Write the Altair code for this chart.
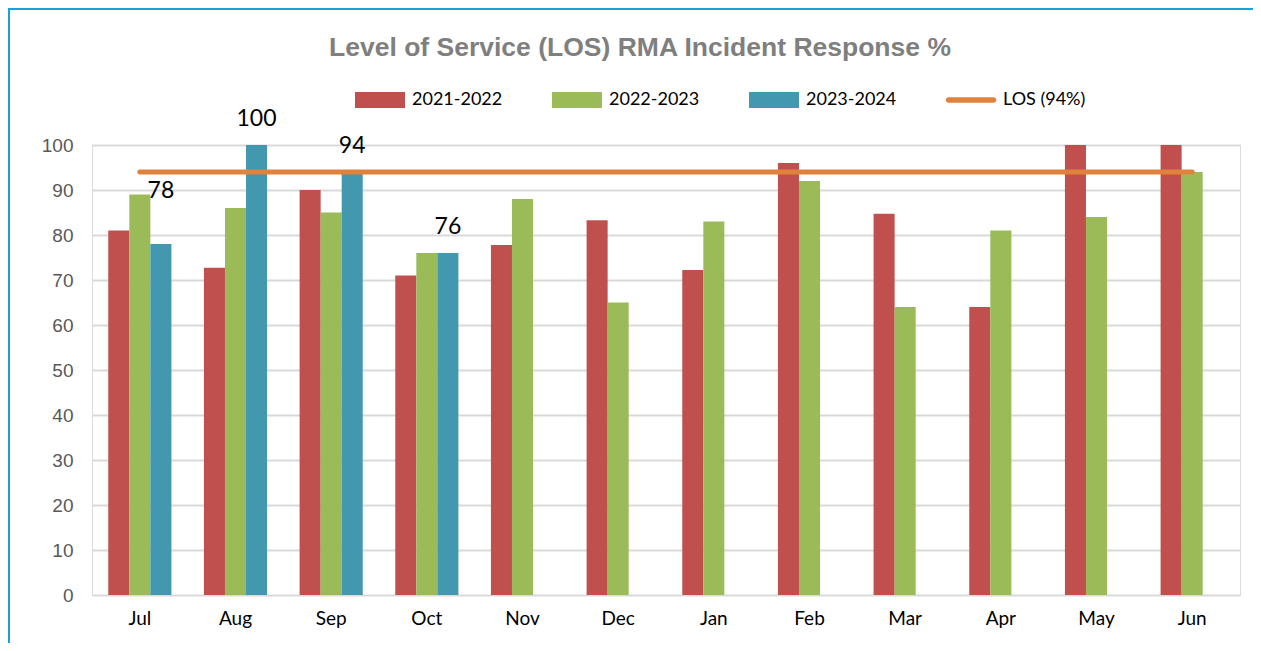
import altair as alt
import pandas as pd

months = ["Jul", "Aug", "Sep", "Oct", "Nov", "Dec", "Jan", "Feb", "Mar", "Apr", "May", "Jun"]
series_names = ["2021-2022", "2022-2023", "2023-2024"]
los_name = "LOS (94%)"
los_value = 94

s2122 = [81, 72.7, 90, 71, 77.8, 83.3, 72.2, 96, 84.7, 64, 100, 100]
s2223 = [89, 86, 85, 76, 88, 65, 83, 92, 64, 81, 84, 94]
s2324 = [78, 100, 94, 76]

colors = ["#C0504D", "#9BBB59", "#4198AF", "#E0823C"]

rows = []
for name, vals in zip(series_names, [s2122, s2223, s2324]):
    for m, v in zip(months, vals):
        rows.append({"month": m, "series": name, "value": v})
bars_df = pd.DataFrame(rows)
labels_df = bars_df[bars_df["series"] == "2023-2024"].copy()
los_df = pd.DataFrame({"month": months, "series": los_name, "value": los_value})
all_names = series_names + [los_name]
legend_df = pd.DataFrame({"series": all_names})

W, H = 1148, 450

x_scale = alt.Scale(domain=months, paddingInner=0.34, paddingOuter=0.17)
color_scale = alt.Scale(domain=all_names, range=colors)

rect_path = "M-1,-0.32H1V0.32H-1Z"
line_path = "M-0.9,-0.11L0.9,-0.11A0.11,0.11,0,0,1,0.9,0.11L-0.9,0.11A0.11,0.11,0,0,1,-0.9,-0.11Z"
shape_scale = alt.Scale(domain=all_names, range=[rect_path, rect_path, rect_path, line_path])
legend_x_scale = alt.Scale(domain=all_names, type="point", range=[288, 879], padding=0)

frame = alt.Chart(pd.DataFrame({"f": [0]})).mark_rect(
    filled=False, stroke="#1A9FDA", strokeWidth=2
).encode(
    x=alt.value(-83), x2=alt.value(W + 200), y=alt.value(-136), y2=alt.value(H + 200)
)

bars = alt.Chart(bars_df).mark_bar().encode(
    x=alt.X("month:N", scale=x_scale, sort=months,
            axis=alt.Axis(title=None, labelFont="Lato", labelFontSize=19, labelColor="#000000",
                          labelPadding=14, ticks=False, domain=False, grid=False, labelAngle=0)),
    xOffset=alt.XOffset("series:N", scale=alt.Scale(domain=series_names, paddingInner=0, paddingOuter=0)),
    y=alt.Y("value:Q", scale=alt.Scale(domain=[0, 100], nice=False),
            axis=alt.Axis(title=None, values=list(range(0, 101, 10)), labelFont="Liberation Sans",
                          labelFontSize=19, labelColor="#595959", labelPadding=19, ticks=False,
                          domain=False, grid=True, gridColor="#D9D9D9", gridWidth=1.8)),
    color=alt.Color("series:N", scale=color_scale, legend=None),
)

los_line = alt.Chart(los_df).mark_line(strokeWidth=5, strokeCap="round").encode(
    x=alt.X("month:N", scale=x_scale, sort=months, axis=None),
    y=alt.Y("value:Q"),
    color=alt.Color("series:N", scale=color_scale, legend=None),
)

label_base = alt.Chart(labels_df).encode(
    x=alt.X("month:N", scale=x_scale, sort=months, axis=None),
    xOffset=alt.XOffset("series:N", scale=alt.Scale(domain=series_names)),
    y=alt.Y("value:Q"),
    text=alt.Text("value:Q", format="d"),
)
labels_main = label_base.transform_filter(alt.datum.month != "Jul").mark_text(
    font="Lato", fontSize=23, color="#000000", dy=-19, baseline="alphabetic"
)
labels_jul = label_base.transform_filter(alt.datum.month == "Jul").mark_text(
    font="Lato", fontSize=23, color="#000000", dy=-46, baseline="alphabetic"
)

legend_symbols = alt.Chart(legend_df).mark_point(filled=True, size=2500, strokeWidth=0, opacity=1).encode(
    x=alt.X("series:N", scale=legend_x_scale, axis=None),
    y=alt.value(-45),
    color=alt.Color("series:N", scale=color_scale, legend=None),
    shape=alt.Shape("series:N", scale=shape_scale, legend=None),
)
legend_labels = alt.Chart(legend_df).mark_text(
    align="left", baseline="middle", dx=32, font="Lato", fontSize=18, color="#000000"
).encode(
    x=alt.X("series:N", scale=legend_x_scale, axis=None),
    y=alt.value(-45),
    text="series:N",
)

chart = alt.layer(frame, bars, los_line, labels_main, labels_jul, legend_symbols, legend_labels).resolve_scale(
    x="independent"
).properties(
    width=W, height=H,
    title=alt.TitleParams("Level of Service (LOS) RMA Incident Response %", font="Liberation Sans",
                          fontSize=26.5, fontWeight="bold", color="#7F7F7F", anchor="middle",
                          frame="group", dx=-26, offset=-53),
    autosize=alt.AutoSizeParams(type="none"),
    padding={"left": 84, "top": 137, "right": 13, "bottom": 48},
).configure_view(strokeWidth=0, stroke="transparent").configure(background="#FFFFFF")

chart.save("out.html", embed_options={"renderer": "svg", "actions": False})
